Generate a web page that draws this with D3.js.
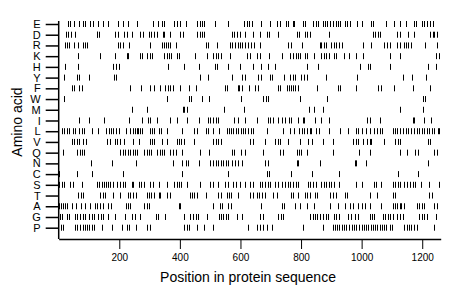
<!DOCTYPE html>
<html>
<head>
<meta charset="utf-8">
<script src="https://cdn.jsdelivr.net/npm/d3@7"></script>
<style>
  body { margin: 0; background: #fff; }
  svg { display: block; font-family: "Liberation Sans", Arial, Helvetica, sans-serif; }
</style>
</head>
<body>
<script>
// amino acids, top to bottom
var aminoAcids = ['E', 'D', 'R', 'K', 'H', 'Y', 'F', 'W', 'M', 'I', 'L', 'V', 'Q', 'N', 'C', 'S', 'T', 'A', 'G', 'P'];
var xTicks = [200, 400, 600, 800, 1000, 1200];
var seqLength = 1261;

// positions of each residue in the sequence
var posE = [32,37,52,66,79,88,104,112,129,147,162,195,211,228,259,312,327,342,349,382,391,402,419,457,466,474,481,516,560,613,621,628,637,668,698,720,731,749,758,772,776,805,813,840,849,857,871,878,886,895,906,915,923,930,945,952,961,984,1000,1031,1037,1080,1106,1128,1147,1174,1180,1198,1207,1216,1227,1235];
var posD = [24,32,39,54,125,128,132,186,197,215,224,241,270,279,298,305,316,325,345,349,367,402,411,457,466,474,481,571,580,588,598,615,643,665,687,694,725,785,794,813,820,829,893,1037,1044,1053,1062,1117,1128,1152,1174,1227,1235,1240,1249];
var posR = [22,27,33,52,63,81,88,94,195,202,211,231,301,342,347,353,360,369,386,485,492,522,566,573,582,591,599,606,615,624,635,646,665,756,768,802,862,867,875,882,900,908,917,926,934,1003,1031,1075,1084,1095,1117,1128,1139,1147,1154,1163,1209,1249];
var posK = [63,136,186,224,230,268,276,292,301,309,347,356,364,371,389,397,451,490,511,518,527,536,566,621,632,654,665,694,736,764,774,783,790,798,813,820,842,867,875,882,893,908,917,941,959,981,1003,1092,1128,1246,1257];
var posH = [22,63,180,189,200,360,413,463,516,522,560,598,643,668,692,714,818,857,994,1021,1029,1095,1218,1246];
var posY = [19,59,66,101,183,189,468,492,573,606,615,659,668,698,705,745,764,772,780,801,809,818,884,985,1136,1165,1213];
var posF = [44,52,68,77,235,272,301,316,334,352,360,369,378,402,430,452,549,554,591,596,606,628,648,657,725,731,752,760,766,772,780,791,853,923,930,981,1055,1064,1108,1169,1227];
var posW = [19,356,430,437,474,496,602,675,683,692,798,886,1202,1209];
var posM = [242,290,411,415,424,547,613,827,842,871,1125,1202];
var posI = [68,101,148,231,276,294,303,323,367,391,424,462,492,501,511,518,527,580,591,615,653,690,698,709,725,736,747,760,768,791,805,809,845,867,893,1018,1026,1062,1169,1174,1205,1229];
var posL = [11,19,26,35,48,55,68,77,85,110,129,156,165,173,180,189,198,222,235,246,251,257,262,270,275,301,309,316,331,338,358,408,448,455,485,492,511,529,554,562,569,577,584,593,602,610,615,626,635,643,686,741,763,776,794,802,809,818,829,834,851,860,893,928,955,983,988,1000,1016,1026,1042,1051,1059,1066,1103,1110,1117,1128,1136,1147,1154,1163,1174,1183,1191,1198,1207,1216,1224,1231,1240,1251,1257];
var posV = [43,50,59,68,81,90,158,169,186,193,202,215,246,265,303,309,316,342,358,389,397,404,413,446,511,518,527,536,631,643,681,714,723,731,758,796,824,835,873,904,972,981,988,1003,1018,1026,1031,1075,1110,1119,1128,1218,1227];
var posQ = [13,61,70,77,83,202,211,219,230,237,246,251,257,281,290,298,305,325,334,342,349,369,378,386,408,468,496,573,580,602,615,676,731,741,785,794,801,818,906,992,1026,1125,1150,1176,1185,1240,1249];
var posN = [105,175,255,378,408,419,426,462,499,511,518,527,536,544,551,560,573,582,593,604,681,690,785,790,864,977,983,1016,1218];
var posC = [2,59,109,213,408,560,686,694,768,835,926,1119,1185];
var posS = [2,10,17,37,46,76,125,134,142,149,156,164,169,178,193,202,211,219,241,246,265,272,281,303,312,331,356,380,389,397,404,424,468,499,511,527,549,558,577,584,598,615,632,643,665,672,681,690,698,714,723,736,747,756,764,774,783,790,824,831,840,849,867,875,884,893,900,908,926,981,1000,1040,1048,1064,1103,1110,1119,1128,1139,1150,1161,1169,1176,1196,1224,1257];
var posT = [65,72,81,136,145,153,180,202,230,235,246,254,290,298,305,314,331,336,356,369,433,441,448,455,485,527,536,554,562,569,591,632,643,654,661,670,681,708,720,766,772,791,813,820,829,845,853,897,906,917,944,952,1026,1051,1103,1110,1224,1231];
var posA = [2,6,13,21,28,43,57,72,87,103,120,127,136,145,164,171,222,230,237,281,290,298,397,402,511,533,540,560,569,668,736,745,779,798,818,842,895,922,944,961,970,988,1000,1011,1026,1064,1103,1110,1117,1125,1130,1139,1183,1191,1198,1207,1240,1249];
var posG = [4,10,26,35,54,61,70,79,87,101,109,116,131,138,147,164,186,219,241,252,270,320,327,352,413,435,444,452,459,488,529,536,544,551,560,587,604,665,676,725,734,741,829,838,845,853,862,871,882,890,908,917,926,955,966,977,988,1026,1033,1040,1070,1077,1086,1095,1103,1117,1125,1136,1191,1198,1207,1216,1246];
var posP = [6,13,54,61,70,79,87,94,101,109,116,142,175,208,224,233,254,292,301,413,422,430,457,481,511,626,654,665,676,686,703,807,873,904,911,919,926,934,941,950,959,967,974,983,992,1000,1007,1016,1021,1031,1037,1044,1051,1059,1066,1075,1080,1092,1099,1141,1150,1158,1163,1174,1183,1240];

var positions = {
  E: posE, D: posD, R: posR, K: posK, H: posH, Y: posY, F: posF, W: posW, M: posM, I: posI,
  L: posL, V: posV, Q: posQ, N: posN, C: posC, S: posS, T: posT, A: posA, G: posG, P: posP
};

var chartW = 460,
    chartH = 299,
    plotLeft = 58.7,
    plotRight = 440.7,
    firstRow = 24,
    lastRow = 227.7,
    axisY = 239;

var svg = d3.select('body').append('svg')
  .attr('width', chartW)
  .attr('height', chartH);

var x = d3.scaleLinear()
  .domain([0, seqLength])
  .range([plotLeft, plotRight]);

var y = d3.scalePoint()
  .domain(aminoAcids)
  .range([firstRow, lastRow]);

// flatten into marks
var marks = [];
aminoAcids.forEach(function (aa) {
  positions[aa].forEach(function (p) {
    marks.push({ aa: aa, pos: p });
  });
});

svg.append('g')
  .selectAll('line')
  .data(marks)
  .enter()
  .append('line')
  .attr('x1', function (d) { return Math.round(x(d.pos)) + 0.5; })
  .attr('x2', function (d) { return Math.round(x(d.pos)) + 0.5; })
  .attr('y1', function (d) { return y(d.aa) - 3; })
  .attr('y2', function (d) { return y(d.aa) + 3; })
  .attr('stroke', '#000')
  .attr('stroke-width', 1);

// y axis
var yAxis = svg.append('g')
  .attr('transform', 'translate(' + plotLeft + ',0)')
  .call(d3.axisLeft(y).tickSize(13).tickPadding(5).tickSizeOuter(0));
yAxis.select('.domain').remove();
yAxis.selectAll('line').attr('stroke', '#000').attr('stroke-width', 1.5);
yAxis.selectAll('text')
  .attr('font-size', 11)
  .attr('font-family', '"Liberation Sans", Arial, sans-serif')
  .attr('fill', '#000');

svg.append('line')
  .attr('x1', plotLeft).attr('x2', plotLeft)
  .attr('y1', 21).attr('y2', axisY)
  .attr('stroke', '#000')
  .attr('stroke-width', 1.5);

// x axis
var xAxis = svg.append('g')
  .attr('transform', 'translate(0,' + axisY + ')')
  .call(d3.axisBottom(x).tickValues(xTicks).tickFormat(d3.format('d'))
    .tickSize(10).tickPadding(5).tickSizeOuter(0));
xAxis.select('.domain').attr('stroke', '#000').attr('stroke-width', 1.5);
xAxis.selectAll('line').attr('stroke', '#000').attr('stroke-width', 1);
xAxis.selectAll('text')
  .attr('font-size', 10)
  .attr('font-family', '"Liberation Sans", Arial, sans-serif')
  .attr('fill', '#000');

// titles
svg.append('text')
  .attr('x', 248)
  .attr('y', 282)
  .attr('text-anchor', 'middle')
  .attr('font-size', 14)
  .text('Position in protein sequence');

svg.append('text')
  .attr('transform', 'translate(22,122) rotate(-90)')
  .attr('text-anchor', 'middle')
  .attr('font-size', 14)
  .text('Amino acid');
</script>
</body>
</html>
